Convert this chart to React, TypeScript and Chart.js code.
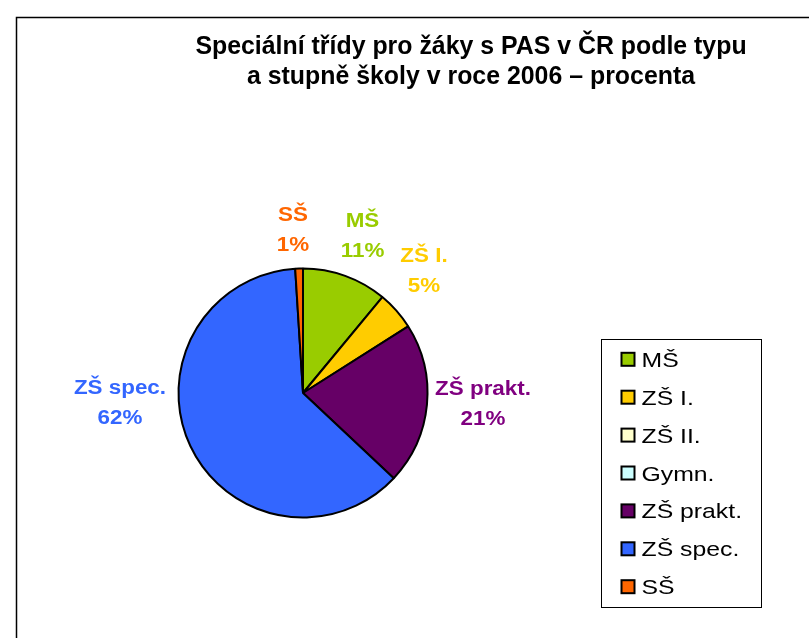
import React, { useEffect, useRef } from "react";
import { Chart, registerables } from "chart.js";

Chart.register(...registerables);

const categories = ["MŠ", "ZŠ I.", "ZŠ II.", "Gymn.", "ZŠ prakt.", "ZŠ spec.", "SŠ"];
const percentages = [11, 5, 0, 0, 21, 62, 1];
const sliceColors = ["#99CC00", "#FFCC00", "#FFFFCC", "#CCFFFF", "#660066", "#3366FF", "#FF6600"];
const labelColors = ["#99CC00", "#FFCC00", "#FFFFCC", "#CCFFFF", "#800080", "#3366FF", "#FF6600"];
const titleLines = ["Speciální třídy pro žáky s PAS v ČR podle typu", "a stupně školy v roce 2006 – procenta"];

// label block centre offsets relative to pie centre, in units of radius (layout only)
const labelOffsets: Record<string, [number, number]> = {
  "MŠ": [0.478, -1.269],
  "ZŠ I.": [0.972, -0.988],
  "ZŠ prakt.": [1.446, 0.08],
  "ZŠ spec.": [-1.47, 0.072],
  "SŠ": [-0.08, -1.317],
};

const FONT = "'Liberation Sans', Arial, Helvetica, sans-serif";

function drawText(
  ctx: CanvasRenderingContext2D,
  text: string,
  x: number,
  y: number,
  font: string,
  color: string,
  align: CanvasTextAlign,
  sx: number
) {
  ctx.save();
  ctx.translate(x, y);
  ctx.scale(sx, 1);
  ctx.font = font;
  ctx.fillStyle = color;
  ctx.textAlign = align;
  ctx.textBaseline = "alphabetic";
  ctx.fillText(text, 0, 0);
  ctx.restore();
}

const decorPlugin = {
  id: "decor",
  afterDraw(chart: any) {
    const ctx = chart.ctx as CanvasRenderingContext2D;
    ctx.save();
    // outer frame
    ctx.strokeStyle = "#000";
    ctx.lineWidth = 1.5;
    ctx.beginPath();
    ctx.moveTo(16.5, 640);
    ctx.lineTo(16.5, 17.5);
    ctx.lineTo(812, 17.5);
    ctx.stroke();

    // title
    drawText(ctx, titleLines[0], 471, 53.5, `bold 26px ${FONT}`, "#000", "center", 0.957);
    drawText(ctx, titleLines[1], 471, 83.5, `bold 26px ${FONT}`, "#000", "center", 0.957);

    // data labels
    const meta = chart.getDatasetMeta(0);
    const total = percentages.reduce((a, b) => a + b, 0);
    meta.data.forEach((arc: any, i: number) => {
      const v = percentages[i];
      if (!v) return;
      const off = labelOffsets[categories[i]];
      if (!off) return;
      const r = arc.outerRadius;
      const cx = arc.x + off[0] * r;
      const cy = arc.y + off[1] * r;
      const f = `bold 20px ${FONT}`;
      drawText(ctx, categories[i], cx, cy - 8, f, labelColors[i], "center", 1.12);
      drawText(ctx, Math.round((v / total) * 100) + "%", cx, cy + 22, f, labelColors[i], "center", 1.12);
    });

    // legend
    const lx = 601.5, ly = 339.5, lw = 160, lh = 268;
    ctx.fillStyle = "#fff";
    ctx.fillRect(lx, ly, lw, lh);
    ctx.strokeStyle = "#000";
    ctx.lineWidth = 1;
    ctx.strokeRect(lx, ly, lw, lh);
    categories.forEach((c, i) => {
      const y = 359.3 + i * 37.9;
      ctx.fillStyle = sliceColors[i];
      ctx.fillRect(621.5, y - 6.5, 13, 13);
      ctx.strokeStyle = "#000";
      ctx.lineWidth = 2;
      ctx.strokeRect(621.5, y - 6.5, 13, 13);
      drawText(ctx, c, 641.5, y + 7.5, `21px ${FONT}`, "#000", "left", 1.18);
    });
    ctx.restore();
  },
};

export default function App() {
  const ref = useRef<HTMLCanvasElement>(null);
  useEffect(() => {
    if (!ref.current) return;
    const chart = new Chart(ref.current, {
      type: "pie",
      data: {
        labels: categories,
        datasets: [
          {
            data: percentages,
            backgroundColor: sliceColors,
            borderColor: "#000",
            borderWidth: 2,
          },
        ],
      },
      options: {
        responsive: false,
        animation: false,
        layout: { padding: { left: 177.5, top: 267.5, right: 380.5, bottom: 119.5 } },
        plugins: {
          legend: { display: false },
          title: { display: false },
          tooltip: { enabled: false },
        },
      },
      plugins: [decorPlugin],
    });
    return () => chart.destroy();
  }, []);
  return (
    <div style={{ position: "absolute", left: 0, top: 0, width: 809, height: 638, background: "#fff" }}>
      <canvas ref={ref} width={809} height={638} style={{ display: "block" }} />
    </div>
  );
}
